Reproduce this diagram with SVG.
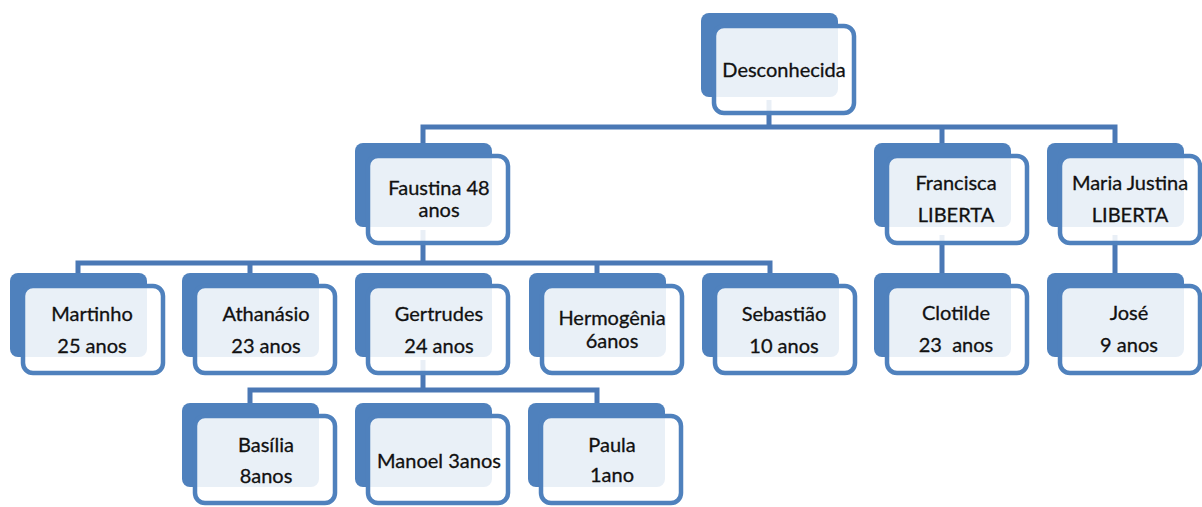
<svg xmlns="http://www.w3.org/2000/svg" width="1202" height="507" viewBox="0 0 1202 507">
<style>
.bk{fill:#4f81bd}
.fr{fill:#ffffff;fill-opacity:0.88;stroke:#4f81bd;stroke-width:4.5}
.t{font-family:Lato,"Liberation Sans",sans-serif;font-size:20px;fill:#111;stroke:#111;stroke-width:0.3;text-anchor:middle}
.c{fill:none;stroke:#4a78b5;stroke-width:5;stroke-linejoin:miter}
</style>
<rect width="1202" height="507" fill="#ffffff"/>
<g id="connectors">
<path class="c" d="M769 100V127M423 145V127H1115V145M942 127V145"/>
<path class="c" d="M423 230V263M78 275V263H770V275M250 263V275M597 263V275"/>
<path class="c" d="M942 235V275M1115 235V275"/>
<path class="c" d="M423 360V390M250 405V390H597V405"/>
</g>
<g id="n-desconhecida"><rect class="bk" x="701" y="13" width="137" height="84" rx="8"/><rect class="fr" x="714" y="26" width="140" height="87" rx="10"/><text class="t" x="784" y="77">Desconhecida</text></g>
<g id="n-faustina"><rect class="bk" x="355" y="143" width="137" height="84" rx="8"/><rect class="fr" x="368" y="156" width="140" height="87" rx="10"/><text class="t" x="439" y="195">Faustina 48</text><text class="t" x="439" y="217">anos</text></g>
<g id="n-francisca"><rect class="bk" x="874" y="143" width="137" height="84" rx="8"/><rect class="fr" x="887" y="156" width="140" height="87" rx="10"/><text class="t" x="956" y="190">Francisca</text><text class="t" x="956" y="222">LIBERTA</text></g>
<g id="n-mariajustina"><rect class="bk" x="1047" y="143" width="137" height="84" rx="8"/><rect class="fr" x="1060" y="156" width="140" height="87" rx="10"/><text class="t" x="1130" y="190">Maria Justina</text><text class="t" x="1130" y="222">LIBERTA</text></g>
<g id="n-martinho"><rect class="bk" x="10" y="273" width="137" height="84" rx="8"/><rect class="fr" x="23" y="286" width="140" height="87" rx="10"/><text class="t" x="92" y="321">Martinho</text><text class="t" x="92" y="353">25 anos</text></g>
<g id="n-athanasio"><rect class="bk" x="182" y="273" width="137" height="84" rx="8"/><rect class="fr" x="195" y="286" width="140" height="87" rx="10"/><text class="t" x="266" y="321">Athanásio</text><text class="t" x="266" y="353">23 anos</text></g>
<g id="n-gertrudes"><rect class="bk" x="355" y="273" width="137" height="84" rx="8"/><rect class="fr" x="368" y="286" width="140" height="87" rx="10"/><text class="t" x="439" y="321">Gertrudes</text><text class="t" x="439" y="353">24 anos</text></g>
<g id="n-hermogenia"><rect class="bk" x="529" y="273" width="137" height="84" rx="8"/><rect class="fr" x="542" y="286" width="140" height="87" rx="10"/><text class="t" x="612" y="325">Hermogênia</text><text class="t" x="612" y="348">6anos</text></g>
<g id="n-sebastiao"><rect class="bk" x="702" y="273" width="137" height="84" rx="8"/><rect class="fr" x="715" y="286" width="140" height="87" rx="10"/><text class="t" x="784" y="321">Sebastião</text><text class="t" x="784" y="353">10 anos</text></g>
<g id="n-clotilde"><rect class="bk" x="874" y="273" width="137" height="84" rx="8"/><rect class="fr" x="887" y="286" width="140" height="87" rx="10"/><text class="t" x="956" y="320">Clotilde</text><text class="t" x="956" y="352" xml:space="preserve">23  anos</text></g>
<g id="n-jose"><rect class="bk" x="1047" y="273" width="137" height="84" rx="8"/><rect class="fr" x="1060" y="286" width="140" height="87" rx="10"/><text class="t" x="1129" y="320">José</text><text class="t" x="1129" y="352">9 anos</text></g>
<g id="n-basilia"><rect class="bk" x="182" y="403" width="137" height="84" rx="8"/><rect class="fr" x="195" y="416" width="140" height="87" rx="10"/><text class="t" x="266" y="452">Basília</text><text class="t" x="266" y="483">8anos</text></g>
<g id="n-manoel"><rect class="bk" x="355" y="403" width="137" height="84" rx="8"/><rect class="fr" x="368" y="416" width="140" height="87" rx="10"/><text class="t" x="439" y="468">Manoel 3anos</text></g>
<g id="n-paula"><rect class="bk" x="528" y="403" width="137" height="84" rx="8"/><rect class="fr" x="541" y="416" width="140" height="87" rx="10"/><text class="t" x="612" y="452">Paula</text><text class="t" x="612" y="482">1ano</text></g>
</svg>
